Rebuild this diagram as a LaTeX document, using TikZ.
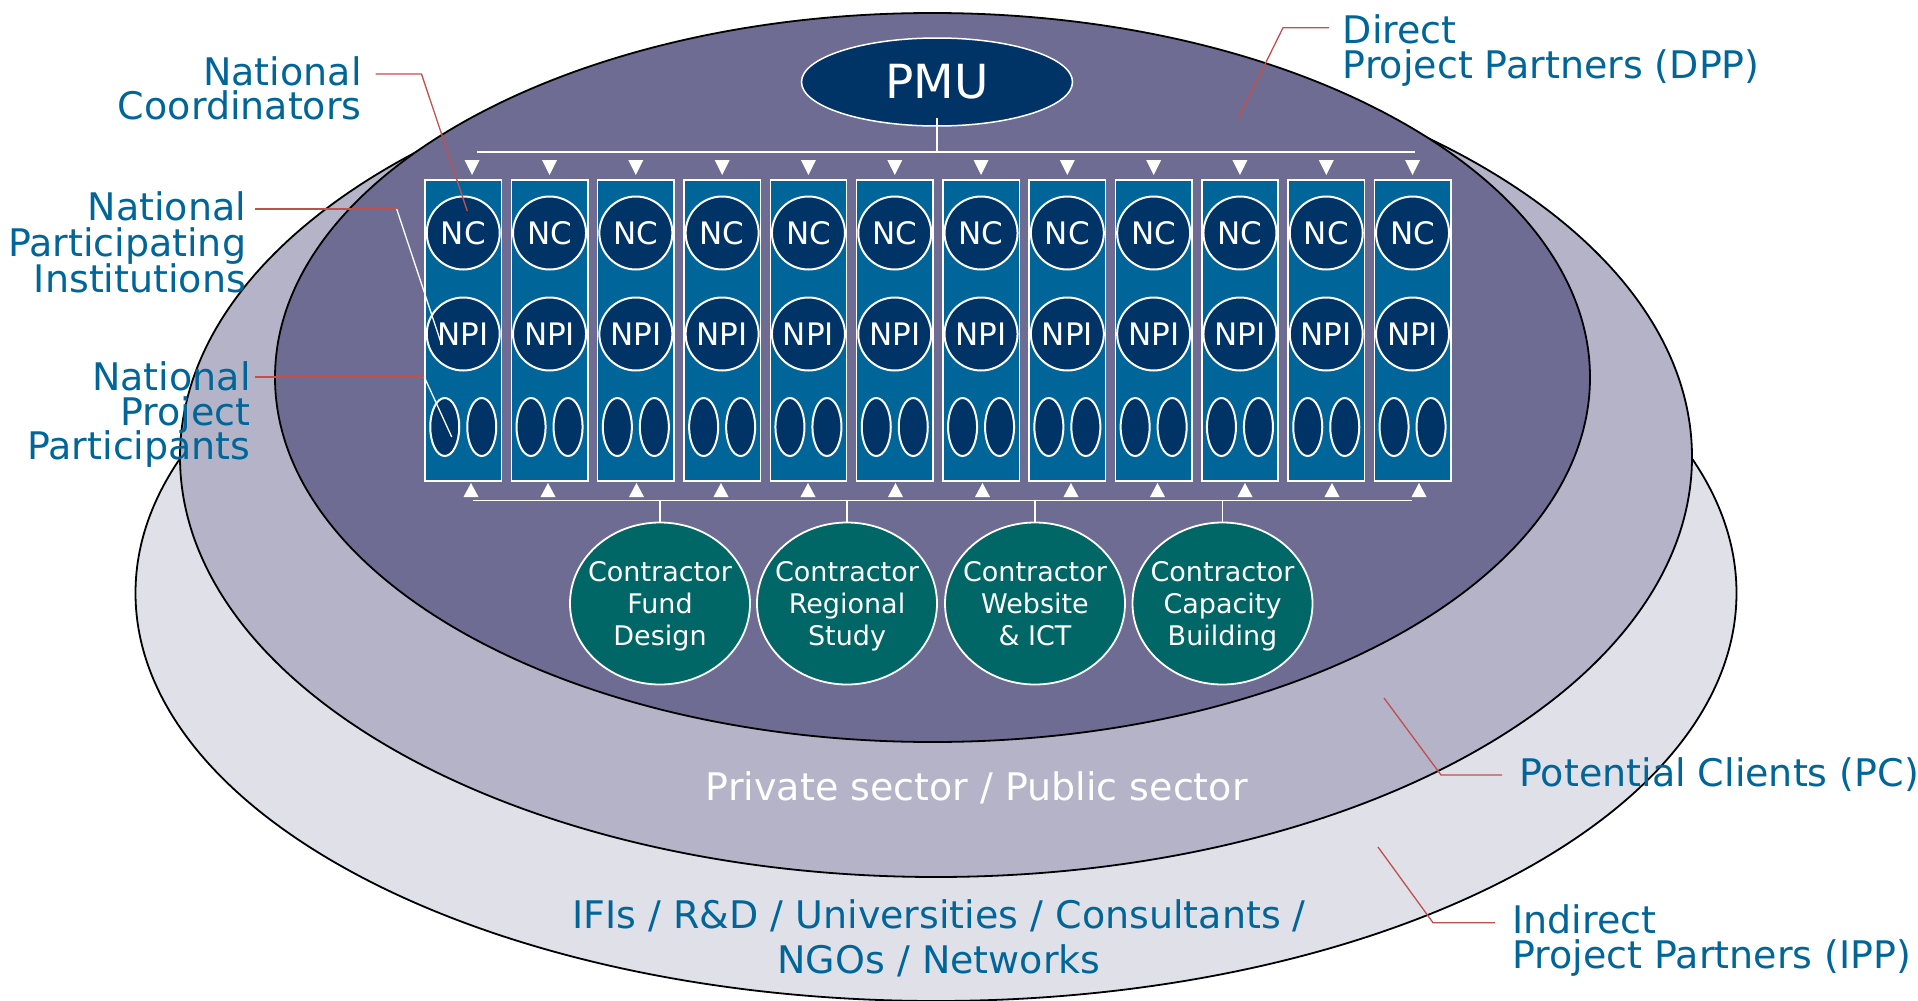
\documentclass[tikz,border=0pt]{standalone}
\usepackage{fontspec}
\setmainfont{DejaVu Sans}
\usetikzlibrary{shapes.geometric,calc}
\definecolor{outerfill}{HTML}{E0E0E8}
\definecolor{midfill}{HTML}{B4B3C8}
\definecolor{darkfill}{HTML}{6E6C92}
\definecolor{colblue}{HTML}{006699}
\definecolor{navyc}{HTML}{003366}
\definecolor{tealc}{HTML}{006666}
\definecolor{lblblue}{HTML}{006699}
\definecolor{leadred}{HTML}{C0504D}
\newcommand\lblR[2]{\vtop{\baselineskip=#1\lineskiplimit=-\maxdimen\halign{\hfil##\cr#2\crcr}}}
\newcommand\lblL[2]{\vtop{\baselineskip=#1\lineskiplimit=-\maxdimen\halign{##\hfil\cr#2\crcr}}}
\newcommand\lblC[2]{\vtop{\baselineskip=#1\lineskiplimit=-\maxdimen\halign{\hfil##\hfil\cr#2\crcr}}}
\newcommand\conText[1]{\vtop{\baselineskip=15.85pt\lineskiplimit=-\maxdimen\halign{\hfil##\hfil\vrule width0pt height13.4pt depth3.5pt\cr#1\crcr}}}
\begin{document}
\begin{tikzpicture}[x=0.5pt,y=-0.5pt,
  ring/.style={draw=black,line width=0.9pt},
  colbox/.style={rectangle,fill=colblue,draw=white,line width=0.75pt,minimum width=38.2pt,minimum height=150.5pt,inner sep=0pt},
  unitc/.style={circle,fill=navyc,draw=white,line width=1pt,minimum size=36.5pt,inner sep=0pt,text=white,font=\fontsize{15.5pt}{18pt}\selectfont},
  partell/.style={ellipse,fill=navyc,draw=white,line width=1pt,minimum width=14.5pt,minimum height=29pt,inner sep=0pt},
  pmustyle/.style={ellipse,fill=navyc,draw=white,line width=0.75pt,minimum width=135.5pt,minimum height=44pt,inner sep=0pt,text=white,font=\fontsize{23.5pt}{26pt}\selectfont},
  constyle/.style={ellipse,fill=tealc,draw=white,line width=0.9pt,minimum width=90pt,minimum height=81pt,inner sep=0pt},
  contxt/.style={inner sep=0pt,text=white,font=\fontsize{13.5pt}{15.85pt}\selectfont},
  wire/.style={draw=white,line width=0.65pt},
  leader/.style={draw=leadred,line width=0.65pt},
  wleader/.style={draw=white,line width=0.65pt},
  lbl/.style={inner sep=0pt,text=lblblue,font=\fontsize{19pt}{17.5pt}\selectfont},
  tri/.style={fill=white}
]
\useasboundingbox (0,0) rectangle (1918,1001);
% nested partner rings
\filldraw[ring,fill=outerfill] (936,593) ellipse [x radius=800.5,y radius=408];
\filldraw[ring,fill=midfill] (936,457) ellipse [x radius=756,y radius=420];
\filldraw[ring,fill=darkfill] (932.5,377.5) ellipse [x radius=657.5,y radius=364.5];

% PMU
\node[pmustyle] (pmu) at (937,82) {PMU};

% national columns
\foreach \i in {1,...,12}{
  \pgfmathsetmacro\cx{463.25+(\i-1)*86.3}
  \node[colbox] (col\i) at (\cx,330.5) {};
  \node[unitc] (nc\i) at (\cx,233) {NC};
  \node[unitc] (npi\i) at (\cx,334) {NPI};
  \node[partell] (ppa\i) at (\cx-18.5,427) {};
  \node[partell] (ppb\i) at (\cx+18.5,427) {};
  \pgfmathsetmacro\tx{\i==1 ? 472 : \cx}
  \fill[tri] (\tx-7.5,160) -- (\tx+7.5,160) -- (\tx,175) -- cycle;
}
\foreach \bx in {471,548,636.5,721,808,895.5,982.5,1071,1157.5,1245,1332,1419}{
  \fill[tri] (\bx-7.5,497) -- (\bx+7.5,497) -- (\bx,483) -- cycle;
}

% buses
\coordinate (busTL) at (476.5,152);
\coordinate (busTR) at (1415,152);
\draw[wire] (busTL) -- (busTR);
\draw[wire] ($(pmu.south)+(0,-9)$) -- (pmu.south |- busTL);
\coordinate (busBL) at (473,500.7);
\coordinate (busBR) at (1412,500.7);
\draw[wire] (busBL) -- (busBR);

% contractors
\node[constyle] (con1) at (660,603.5) {};
\node[constyle] (con2) at (847,603.5) {};
\node[constyle] (con3) at (1035,603.5) {};
\node[constyle] (con4) at (1222.5,603.5) {};
\node[contxt] (con1t) at (con1.center) {\conText{Contractor\cr Fund\cr Design}};
\node[contxt] (con2t) at (con2.center) {\conText{Contractor\cr Regional\cr Study}};
\node[contxt] (con3t) at (con3.center) {\conText{Contractor\cr Website\cr \& ICT}};
\node[contxt] (con4t) at (con4.center) {\conText{Contractor\cr Capacity\cr Building}};
\foreach \j in {1,...,4}{
  \draw[wire] (con\j.north) -- (con\j.north |- busBL);
}

% labels
\node[lbl,anchor=base east] (lblNC) at (362,85) {\lblR{17pt}{National\cr Coordinators}};
\node[lbl,anchor=base east] (lblNPI) at (246.5,220) {\lblR{18pt}{National\cr Participating\cr Institutions}};
\node[lbl,anchor=base east] (lblNPP) at (251,390.7) {\lblR{17.3pt}{National\cr Project\cr Participants}};
\node[lbl,anchor=base west] (lblDPP) at (1342.5,43) {\lblL{17.5pt}{Direct\cr Project Partners (DPP)}};
\node[lbl,anchor=base west] (lblPC) at (1519,786) {Potential Clients (PC)};
\node[lbl,anchor=base west] (lblIPP) at (1512,933) {\lblL{17.5pt}{Indirect\cr Project Partners (IPP)}};
\node[lbl,text=white,anchor=base] (lblPriv) at (976.8,800) {Private sector / Public sector};
\node[lbl,anchor=base] (lblList) at (939,928) {\lblC{22.5pt}{IFIs / R\&D / Universities / Consultants /\cr NGOs / Networks}};

% leaders
\draw[leader] ($(lblNC.base east)+(13.5,-11)$) -- ++(46,0) -- ($(nc1)+(4,-22)$);
\draw[leader] ($(lblNPI.base east)+(8.5,-11)$) -- ++(141.7,0) coordinate (npiK);
\draw[wleader] (npiK) -- ($(npi1)+(-21.5,11)$);
\draw[leader] ($(lblNPP.base east)+(4,-13.7)$) -- ($(col1.west)+(0,46.5)$) coordinate (nppK);
\draw[wleader] (nppK) -- ($(ppa1)+(7,10)$);
\draw[leader] ($(lblDPP.base west)+(-13.5,-15.3)$) -- ++(-46,0) -- ++(-45,91.3) coordinate (dppEnd);
\draw[leader] ($(lblPC.base west)+(-17,-11)$) -- ++(-61,0) -- ++(-57,-77) coordinate (pcEnd);
\draw[leader] ($(lblIPP.base west)+(-17,-10.3)$) -- ++(-62,0) -- ++(-55,-75.7) coordinate (ippEnd);
\end{tikzpicture}
\end{document}
